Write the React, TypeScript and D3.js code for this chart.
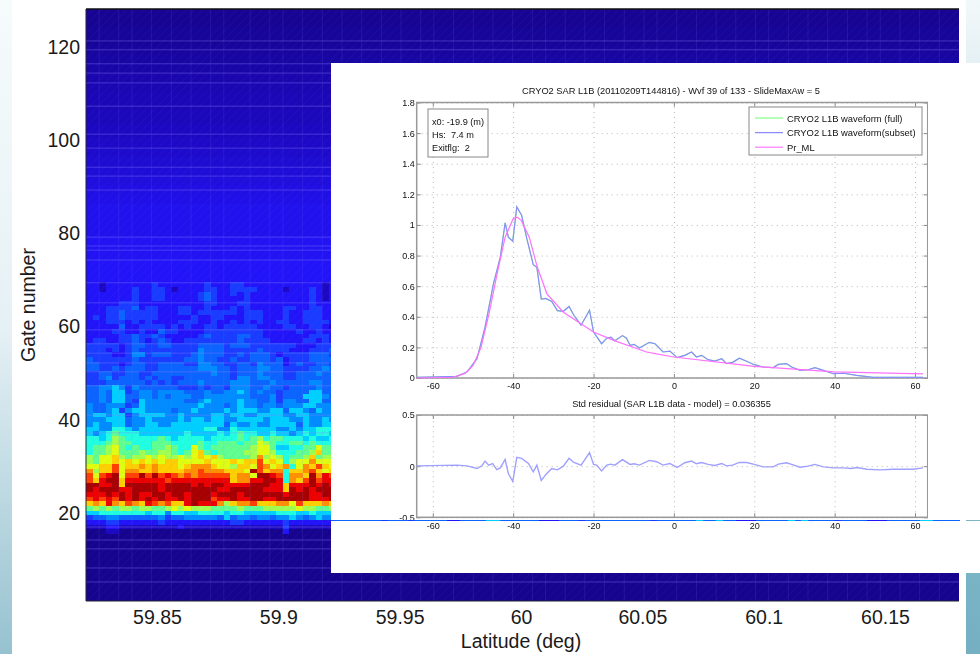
import React, { useEffect, useRef } from 'react';
import * as d3 from 'd3';

const FONT = '"Liberation Sans", Arial, sans-serif';

// heat levels: one character per cell, 0-9 then a-f (navy up to dark red)
const jetColors = ['#16048e', '#1c08c0', '#2214f8', '#1a3cff', '#0c64ff', '#008cff', '#00d0ff', '#20ffe0', '#60ff90', '#a0ff50', '#e0ff10', '#ffd000', '#ff9000', '#ff4000', '#ec0000', '#a80000'];

// gates 69 down to 16, columns 0-18
const cellsWest = [
  '2212222222322222223', '2212222322332122223', '2222222322332222234', '2222222322332222234',
  '2222233322222222223', '2223333423322233223', '2223343333322233233', '2323343333322222322',
  '2223332323222233322', '2222242233332323223', '2222332232243322223', '2222233433432222234',
  '2332233432343223333', '3333323443344333344', '3332323433333333354', '3333223553444333454',
  '4333333433333334454', '4433323443344443355', '4433434443344444455', '3344334433444444444',
  '3345344434344334444', '3334444443434344454', '4455653544444433343', '4454663455455554445',
  '4454664455454555445', '4454664365555554456', '5445553465555555565', '5445635665555455655',
  '5665663566665565555', '5556664556555565665', '5655664556655666666', '6655776566666666667',
  '6567877766666667666', '7767987777787677776', '7778988777888777787', '7889a87877889877a87',
  '7889a88898899878ab8', '98aab9899a9a99a9aba', '98aabababababbaaaab', 'aabbdabbcbcbbbabccc',
  'c9bbdaccbbcbbbbccdc', 'dadefaddfdfdedcdcdd', 'dbeffbeeeeeedeeeeee', 'ffeefbfffffeffffefe',
  'fefffeeffffefffffff', 'eeefefefeeffeffefff', 'dededfefefefeefefff', 'bcbecbdcbedcdbbefee',
  '8989899899889a9a999', '6677777776775776677', '3445544444453445555', '2223322222232222222',
  '1112211111111121111', '0001100000000000000',
];

// gates 69 down to 16, columns 19-37
const cellsEast = [
  '2223322222222222212', '3223333222212223212', '3223232222222223212', '3222232222222223212',
  '3222332222222223222', '2223232222233223322', '3333233322232233322', '3322233322232233322',
  '3223232322332233332', '3233333222233223321', '3333333322222322322', '3333443322222223332',
  '3333433332222233232', '4434443333333222333', '4433333433332223334', '4433434443233334443',
  '4334334443423334444', '4433443544423433443', '5443444554433334454', '5443444544433444544',
  '4443554554433444444', '4445554445444445544', '4435554454434444544', '4455654544344446644',
  '5555554445344466654', '5555655445355446644', '5545655455455566555', '5565666556646654655',
  '6656655666655665555', '6655666656665565565', '6646556556666465566', '7557666666556566777',
  '6767877667665676776', '7777878978877767667', '7888788a98778878777', '8888889aa8667788a88',
  '7888899aa9777889b88', 'b988889c9a97889b899', 'aaababbdaba79aacaaa', 'baa9bbadcabc7acbdba',
  'ccbbbafdbcc7bbcdbab', 'dddbccaffed7ccbfced', 'eeebcceeffe7cbdfdee', 'ffeeeefffeebeeefefe',
  'feefffffeeebfefefff', 'efffeffffffefffeeff', 'deefeeffeefffffeeef', 'ec9bccdbbbccadbbbcb',
  '8888988899999a99889', '7767766666777667666', '5464554554556545655', '2223322222232222222',
  '1111111111131111111', '0000000000020000000',
];

// gates 70 up to 128, one level for the whole row
const upperLevels = [2.0, 2.0, 2.0, 2.0, 2.0, 1.9, 1.9, 1.9, 1.9, 1.9, 1.8, 1.8, 1.8, 1.8, 1.8, 1.8, 1.8, 1.7, 1.7, 1.6, 1.6, 1.5, 1.5, 1.4, 1.4, 1.3, 1.3, 1.2, 1.2, 1.1, 1.1, 1.0, 1.0, 1.0, 0.9, 0.9, 0.9, 0.8, 0.8, 0.8, 0.8, 0.7, 0.7, 0.6, 0.6, 0.5, 0.5, 0.4, 0.4, 0.3, 0.3, 0.2, 0.2, 0.2, 0.2, 0.1, 0.1, 0.1, 0.1];

// the one row that shows through under the inset, columns 38-132
const peekRow = '44444443444344444' + '224444' + '66' + '444444' + '222' + '444344444444443444444' + '6' + '44' + '6' + '4422244444' + '6' + '4' + '6' + '44443444422244444' + '66' + '4444';

const seamGates = [121.3, 119.4, 116.4, 114.4, 112.3, 107.3, 101.3, 98.3, 94.2, 92.3, 89.3, 79.2, 77.3, 76.4, 74.3, 69.4, 65.1, 59.3, 56.3, 54.3, 52.2, 50.3, 47.3, 41, 37.2, 17, 14.2, 12.3, 8.2, 5.2];
const seamCols = [2, 5, 7, 10, 13, 16, 19, 21, 25, 28, 30, 33, 36, 39, 42, 45, 48, 51, 53, 56, 59, 62, 65, 68, 70, 73, 76, 79, 82, 85, 87, 90, 93, 96, 99, 102, 104, 107, 110, 113, 116, 119, 121, 124, 127, 130];

const latTicks = [59.85, 59.9, 59.95, 60, 60.05, 60.1, 60.15];
const gateTicks = [20, 40, 60, 80, 100, 120];

const binTicks = [-60, -40, -20, 0, 20, 40, 60];
const powerTicks = [0, 0.2, 0.4, 0.6, 0.8, 1, 1.2, 1.4, 1.6, 1.8];
const residualTicks = [-0.5, 0, 0.5];

const waveBins = [-64, -54, -51.5, -49, -47, -44.9, -43.2, -42, -41.2, -40.1, -39.1, -37.9, -36.6, -35, -34.1, -33, -31.9, -30.4, -29, -27.5, -26.1, -24.9, -23.1, -21, -20, -18, -16.7, -15.7, -14.7, -12.8, -11.8, -10.9, -9.9, -8.6, -6.1, -4.7, -2.7, -1, 0.8, 2.7, 4.4, 5.6, 6.9, 8.5, 10.2, 11.9, 13.1, 14.6, 16.3, 18.1, 20, 22.2, 24.7, 26, 28, 29.3, 31.4, 33.4, 35.1, 37.2, 39.7, 42.2, 45.5, 49.6, 54.6, 62];
const waveValues = [0.004, 0.011, 0.039, 0.126, 0.333, 0.617, 0.79, 1.013, 0.92, 0.894, 1.118, 1.063, 0.91, 0.74, 0.723, 0.516, 0.52, 0.5, 0.44, 0.436, 0.467, 0.41, 0.345, 0.443, 0.3, 0.224, 0.26, 0.267, 0.244, 0.277, 0.26, 0.213, 0.22, 0.196, 0.233, 0.224, 0.17, 0.176, 0.133, 0.148, 0.17, 0.137, 0.148, 0.12, 0.11, 0.126, 0.094, 0.102, 0.129, 0.109, 0.087, 0.072, 0.068, 0.089, 0.094, 0.072, 0.05, 0.054, 0.068, 0.05, 0.028, 0.031, 0.017, 0.004, 0.004, 0.004];

const modelBins = [-64, -55, -52, -50, -48, -46, -44, -42, -40, -39, -38, -36, -34, -31.6, -27.5, -20, -15, -6.8, 0, 20, 40, 60, 62];
const modelValues = [0, 0.005, 0.03, 0.08, 0.2, 0.42, 0.68, 0.92, 1.04, 1.05, 1.03, 0.92, 0.725, 0.55, 0.43, 0.3, 0.246, 0.17, 0.137, 0.076, 0.04, 0.028, 0.027];

const residualBins = [-64, -54, -51.5, -49, -47.8, -47, -46.1, -45.1, -44.1, -43.2, -42, -41.2, -40.1, -39.1, -37.9, -36.2, -35, -34.1, -33, -31.9, -30.4, -29, -27.5, -26.1, -24.9, -23.1, -21, -20, -19.2, -18, -16.7, -15.7, -14.7, -12.8, -10.9, -9.9, -8.6, -6.1, -4.3, -2.7, -1, 0.8, 2.7, 4.4, 5.6, 6.9, 8.5, 10.2, 11.9, 13.1, 14.6, 16.3, 18.1, 20, 22.2, 24.7, 26, 28, 29.3, 31.4, 33.4, 35.1, 37.2, 39.7, 42.2, 44.2, 45.5, 48, 51.3, 54.6, 59.6, 62];
const residualValues = [0.003, 0.01, 0.003, -0.023, 0.003, 0.05, 0.01, 0.026, -0.033, -0.017, 0.066, -0.073, -0.15, 0.086, 0.076, 0.026, -0.056, 0.01, -0.139, -0.083, -0.023, -0.036, 0, 0.076, 0.036, 0.01, 0.132, 0.017, 0.01, -0.046, 0.01, 0.02, 0.01, 0.063, 0.017, 0.023, 0.01, 0.056, 0.043, 0.01, 0.026, -0.013, 0.033, 0.05, 0.023, 0.036, 0.017, 0.007, 0.026, 0.003, 0.01, 0.036, 0.036, 0.017, -0.007, -0.007, 0.02, 0.033, 0.017, -0.01, 0, 0.017, -0.007, -0.017, -0.017, -0.023, -0.013, -0.03, -0.036, -0.03, -0.03, -0.017];

const legendLabels = ['CRYO2 L1B waveform (full)', 'CRYO2 L1B waveform(subset)', 'Pr_ML'];
const legendColors = ['#8cff8c', '#8c8cff', '#ff84ff'];
const noteLines = ['x0: -19.9 (m)', 'Hs:  7.4 m', 'Exitflg:  2'];

const zip = (xs: number[], ys: number[]) => xs.map((x, i) => [x, ys[i]] as [number, number]);

export default function App() {
  const svgRef = useRef<SVGSVGElement>(null);

  useEffect(() => {
    const svg = d3.select(svgRef.current);
    svg.selectAll('*').remove();

    const defs = svg.append('defs');
    const bgGrad = defs.append('linearGradient').attr('id', 'slideBg').attr('x1', 0).attr('x2', 0).attr('y1', 0).attr('y2', 1);
    bgGrad.append('stop').attr('offset', 0).attr('stop-color', '#f6fbfc');
    bgGrad.append('stop').attr('offset', 0.5).attr('stop-color', '#e6f1f5');
    bgGrad.append('stop').attr('offset', 1).attr('stop-color', '#96c2d0');
    const bgGradR = defs.append('linearGradient').attr('id', 'slideBgR').attr('x1', 0).attr('x2', 0).attr('y1', 0).attr('y2', 1);
    bgGradR.append('stop').attr('offset', 0).attr('stop-color', '#f2f8fa');
    bgGradR.append('stop').attr('offset', 0.85).attr('stop-color', '#7ab5c6');
    bgGradR.append('stop').attr('offset', 1).attr('stop-color', '#74b0c2');
    const hatch = defs.append('pattern').attr('id', 'hatch').attr('width', 6).attr('height', 6)
      .attr('patternUnits', 'userSpaceOnUse').attr('patternTransform', 'rotate(45)');
    hatch.append('line').attr('x1', 0).attr('x2', 0).attr('y1', 0).attr('y2', 6)
      .attr('stroke', '#6a5cff').attr('stroke-opacity', 0.13).attr('stroke-width', 1);
    defs.append('clipPath').attr('id', 'heatClip').append('rect')
      .attr('x', 86).attr('y', 9).attr('width', 873).attr('height', 592);
    defs.append('filter').attr('id', 'soft').attr('x', 0).attr('y', 0).attr('width', 1).attr('height', 1)
      .append('feGaussianBlur').attr('stdDeviation', 0.5);

    svg.append('rect').attr('width', 980).attr('height', 654).attr('fill', '#fff');
    svg.append('rect').attr('width', 12).attr('height', 654).attr('fill', 'url(#slideBg)');
    svg.append('rect').attr('x', 966).attr('width', 14).attr('height', 654).attr('fill', 'url(#slideBgR)');

    // heatmap
    const x = d3.scaleLinear().domain([59.85, 60.15]).range([157, 885]);
    const y = d3.scaleLinear().domain([20, 120]).range([513, 47]);
    const col = d3.scaleBand<number>().domain(d3.range(133)).range([86, 959]);
    const color = d3.scaleLinear<string>().domain(jetColors.map((_, i) => i)).range(jetColors).clamp(true);
    const level = (ch: string) => parseInt(ch, 16);

    const heat = svg.append('g').attr('clip-path', 'url(#heatClip)').attr('shape-rendering', 'crispEdges');
    const wideRow = (gate: number, v: number) => heat.append('rect')
      .attr('x', 86).attr('width', 873)
      .attr('y', y(gate + 0.5)).attr('height', y(gate - 0.5) - y(gate + 0.5) + 0.5)
      .attr('fill', color(v));
    d3.range(0, 16).forEach(g => wideRow(g, 0));
    upperLevels.forEach((v, i) => wideRow(70 + i, v));
    wideRow(129, 0.1);
    cellsWest.forEach((west, i) => {
      const gate = 69 - i;
      const row = west + cellsEast[i];
      heat.selectAll(null).data(row.split('')).enter().append('rect')
        .attr('x', (_, c) => col(c) as number)
        .attr('width', col.bandwidth() + 0.5)
        .attr('y', y(gate + 0.5))
        .attr('height', y(gate - 0.5) - y(gate + 0.5) + 0.5)
        .attr('fill', d => color(level(d)));
    });

    svg.append('rect').attr('x', 86).attr('y', 9).attr('width', 873).attr('height', 592).attr('fill', 'url(#hatch)');
    const seams = svg.append('g').attr('clip-path', 'url(#heatClip)');
    seams.selectAll('line.h').data(seamGates).enter().append('line')
      .attr('x1', 86).attr('x2', 959).attr('y1', d => y(d)).attr('y2', d => y(d))
      .attr('stroke', '#8c80ff').attr('stroke-opacity', 0.38).attr('stroke-width', 1);
    seams.selectAll('line.v').data(seamCols).enter().append('line')
      .attr('x1', d => col(d) as number).attr('x2', d => col(d) as number).attr('y1', 9).attr('y2', 601)
      .attr('stroke', '#8c80ff').attr('stroke-opacity', 0.13).attr('stroke-width', 1);

    const xAxis = svg.append('g').attr('transform', 'translate(0,601)')
      .call(d3.axisBottom(x).tickValues(latTicks).tickSize(0).tickPadding(9).tickFormat(d => String(d)));
    const yAxis = svg.append('g').attr('transform', 'translate(86,0)')
      .call(d3.axisLeft(y).tickValues(gateTicks).tickSize(0).tickPadding(6));
    [xAxis, yAxis].forEach(a => {
      a.selectAll('text').attr('font-family', FONT).attr('font-size', 19.5).attr('fill', '#1a1a1a');
      a.select('.domain').remove();
    });
    svg.append('path').attr('d', d3.line()([[86, 9], [959, 9]])).attr('stroke', '#111').attr('stroke-width', 1.5);
    svg.append('path').attr('d', d3.line()([[86, 9], [86, 601], [959, 601]])).attr('fill', 'none').attr('stroke', '#223').attr('stroke-width', 1);

    svg.append('text').attr('x', 521).attr('y', 648).attr('text-anchor', 'middle')
      .attr('font-family', FONT).attr('font-size', 19.5).attr('fill', '#1a1a1a').text('Latitude (deg)');
    svg.append('text').attr('transform', 'translate(35,305) rotate(-90)').attr('text-anchor', 'middle')
      .attr('font-family', FONT).attr('font-size', 19.5).attr('fill', '#1a1a1a').text('Gate number');

    // inset slide
    svg.append('rect').attr('x', 331).attr('y', 63).attr('width', 649).attr('height', 510).attr('fill', '#fff');
    const inset = svg.append('g').attr('filter', 'url(#soft)');

    const bx = d3.scaleLinear().domain([-60, 60]).range([432.8, 915]);
    const frameL = 416.7, frameR = 927.7;

    const drawPanel = (py: d3.ScaleLinear<number, number>, ticks: number[], top: number, bottom: number) => {
      const g = inset.append('g');
      const gridX = g.append('g').attr('transform', `translate(0,${bottom})`)
        .call(d3.axisBottom(bx).tickValues(binTicks).tickSize(top - bottom).tickFormat(() => ''));
      const gridY = g.append('g').attr('transform', `translate(${frameL},0)`)
        .call(d3.axisLeft(py).tickValues(ticks).tickSize(frameL - frameR).tickFormat(() => ''));
      [gridX, gridY].forEach(a => {
        a.select('.domain').remove();
        a.selectAll('line').attr('stroke', '#b8b8b8').attr('stroke-dasharray', '1 4');
      });
      const axes = [
        g.append('g').attr('transform', `translate(0,${bottom})`).call(d3.axisBottom(bx).tickValues(binTicks).tickSize(-4).tickPadding(5).tickFormat(d => String(d))),
        g.append('g').attr('transform', `translate(0,${top})`).call(d3.axisTop(bx).tickValues(binTicks).tickSize(-4).tickFormat(() => '')),
        g.append('g').attr('transform', `translate(${frameL},0)`).call(d3.axisLeft(py).tickValues(ticks).tickSize(-4).tickPadding(2).tickFormat(d => String(d))),
        g.append('g').attr('transform', `translate(${frameR},0)`).call(d3.axisRight(py).tickValues(ticks).tickSize(-4).tickFormat(() => '')),
      ];
      axes.forEach(a => {
        a.select('.domain').remove();
        a.selectAll('line').attr('stroke', '#888');
        a.selectAll('text').attr('font-family', FONT).attr('font-size', 9).attr('fill', '#111');
      });
      g.append('rect').attr('x', frameL).attr('y', top).attr('width', frameR - frameL).attr('height', bottom - top)
        .attr('fill', 'none').attr('stroke', '#999').attr('stroke-width', 1.5);
      return g;
    };

    const powerY = d3.scaleLinear().domain([0, 1.8]).range([378, 102.5]);
    const residualY = d3.scaleLinear().domain([-0.5, 0.5]).range([517.3, 415]);
    const powerPanel = drawPanel(powerY, powerTicks, 102.5, 378);
    const residualPanel = drawPanel(residualY, residualTicks, 415, 517.3);

    const powerLine = d3.line<[number, number]>().x(d => bx(d[0])).y(d => powerY(d[1]));
    const residualLine = d3.line<[number, number]>().x(d => bx(d[0])).y(d => residualY(d[1]));
    const wave = zip(waveBins, waveValues);
    powerPanel.append('path').attr('d', powerLine(wave)).attr('fill', 'none').attr('stroke', legendColors[0]).attr('stroke-width', 1.2);
    powerPanel.append('path').attr('d', powerLine(wave)).attr('fill', 'none').attr('stroke', legendColors[1]).attr('stroke-width', 1.2);
    powerPanel.append('path').attr('d', powerLine(zip(modelBins, modelValues))).attr('fill', 'none').attr('stroke', '#ff70ff').attr('stroke-width', 1.2);
    residualPanel.append('path').attr('d', residualLine(zip(residualBins, residualValues))).attr('fill', 'none').attr('stroke', '#a0a0ff').attr('stroke-width', 1.4);

    const smallText = (tx: number, ty: number, s: string, anchor = 'start', size = 9.2) => inset.append('text')
      .attr('x', tx).attr('y', ty).attr('text-anchor', anchor).attr('dominant-baseline', 'central')
      .attr('font-family', FONT).attr('font-size', size).attr('fill', '#111').text(s);

    smallText(671, 91, 'CRYO2 SAR L1B (20110209T144816) - Wvf 39 of 133 - SlideMaxAw = 5', 'middle', 9.25);
    smallText(671.5, 404, 'Std residual (SAR L1B data - model) = 0.036355', 'middle', 9.25);

    inset.append('rect').attr('x', 428).attr('y', 109).attr('width', 60).attr('height', 48)
      .attr('fill', '#fff').attr('stroke', '#888').attr('stroke-width', 1);
    noteLines.forEach((s, i) => smallText(432, 122 + i * 13, s).attr('xml:space', 'preserve'));

    inset.append('rect').attr('x', 749).attr('y', 107).attr('width', 173).attr('height', 48)
      .attr('fill', '#fff').attr('stroke', '#888').attr('stroke-width', 1);
    legendLabels.forEach((s, i) => {
      const ly = 118 + i * 14.6;
      inset.append('line').attr('x1', 755).attr('x2', 783).attr('y1', ly).attr('y2', ly)
        .attr('stroke', legendColors[i]).attr('stroke-width', 1.3);
      smallText(787, ly, s, 'start', 9.4);
    });

    // row of the heatmap showing under the inset
    const peek = svg.append('g').attr('shape-rendering', 'crispEdges');
    peek.selectAll('rect').data(peekRow.split('')).enter().append('rect')
      .attr('x', (_, i) => col(38 + i) as number).attr('width', col.bandwidth() + 0.5)
      .attr('y', 519.5).attr('height', 1.5)
      .attr('fill', d => color(level(d)));
    peek.append('rect').attr('x', 331).attr('y', 519.5).attr('width', 4).attr('height', 1.5).attr('fill', color(4));
    peek.append('rect').attr('x', 966).attr('y', 519.5).attr('width', 14).attr('height', 1.5).attr('fill', '#7fb4c4');
  }, []);

  return <svg ref={svgRef} width={980} height={654} style={{ position: 'absolute', left: 0, top: 0 }} />;
}
